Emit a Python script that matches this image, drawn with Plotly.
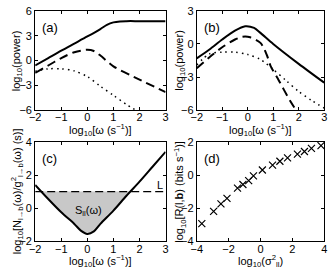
import numpy as np
import plotly.graph_objects as go

# ---------------- data ----------------
# panel (a)
a_x_solid = [-2, -1.5, -1, -0.5, 0, 0.5, 0.75, 1, 1.25, 1.5, 2, 3]
a_y_solid = [-0.6, 0.3, 1.2, 2.05, 2.9, 3.8, 4.3, 4.6, 4.72, 4.75, 4.75, 4.75]
a_x_dash = [-2, -1.5, -1, -0.5, 0, 0.25, 0.5, 1, 2, 3]
a_y_dash = [-1.5, -0.6, 0.3, 1.0, 1.3, 1.15, 0.6, -0.7, -2.3, -3.8]
a_x_dot = [-2, -1.5, -1, -0.5, 0, 0.5, 1, 1.5, 1.86]
a_y_dot = [-1.3, -1.0, -1.0, -1.25, -1.95, -3.1, -4.2, -5.3, -6.0]

# panel (b)
b_x_solid = [-2, -1.5, -1, -0.5, -0.1, 0.25, 0.5, 1, 2, 3]
b_y_solid = [-1.3, -0.5, 0.4, 1.2, 1.6, 1.45, 1.0, 0.0, -1.8, -3.5]
b_x_dash = [-2, -1.5, -1, -0.5, -0.2, 0.1, 0.5, 0.75, 0.9, 1.22, 1.65, 1.9]
b_y_dash = [-2.2, -1.2, -0.3, 0.4, 0.65, 0.6, 0.1, -1.0, -2.0, -3.3, -5.1, -6.0]
b_x_dot = [-2, -1.5, -1, -0.5, 0, 0.5, 1, 1.5, 2, 2.5, 3]
b_y_dot = [-1.9, -0.9, -0.75, -0.75, -0.95, -1.4, -2.3, -3.3, -4.3, -5.1, -5.8]

# panel (c)
c_x = [-2, -1.5, -1, -0.5, -0.25, 0, 0.25, 0.5, 1, 1.5, 2, 2.5, 3]
c_y = [1.4, 0.55, -0.25, -0.95, -1.35, -1.55, -1.4, -0.95, -0.15, 0.75, 1.6, 2.5, 3.4]
c_L = 1.0

# panel (d)
d_x = [-3.68, -2.94, -2.48, -2.1, -1.44, -1.1, -0.74, -0.44, 0.12, 0.76, 1.22, 1.7, 2.32, 2.76, 3.2, 3.8]
d_y = [-2.93, -2.19, -1.74, -1.41, -0.79, -0.57, -0.34, -0.05, 0.30, 0.60, 0.83, 1.03, 1.26, 1.42, 1.61, 1.77]

x_ticks_w = [-2, -1, 0, 1, 2, 3]
a_yticks = [-6, -3, 0, 3, 6]
b_yticks = [-6, -3, 0, 3]
c_yticks = [-2, 0, 2, 4]
d_xticks = [-4, -2, 0, 2, 4]
d_yticks = [-4, -2, 0, 2]

# ---------------- figure ----------------
W, H = 334, 277
FONT = "Liberation Sans"
fig = go.Figure()

def line(x, y, xa, ya, dash="solid", width=2):
    fig.add_trace(go.Scatter(x=x, y=y, mode="lines", xaxis=xa, yaxis=ya,
                             line=dict(color="black", width=width, dash=dash, shape="spline", smoothing=0.8),
                             showlegend=False, hoverinfo="skip"))

DASH = "9px,5px"
DOT = "1.5px,4px"

# (a)
line(a_x_solid, a_y_solid, "x", "y")
line(a_x_dash, a_y_dash, "x", "y", DASH)
line(a_x_dot, a_y_dot, "x", "y", DOT, 1.5)
# (b)
line(b_x_solid, b_y_solid, "x2", "y2")
line(b_x_dash, b_y_dash, "x2", "y2", DASH)
line(b_x_dot, b_y_dot, "x2", "y2", DOT, 1.5)

# (c) fill region where curve below L
cx = np.array(c_x, float); cy = np.array(c_y, float)
px, py = [], []
for i in range(len(cx) - 1):
    x0, x1, y0, y1 = cx[i], cx[i + 1], cy[i], cy[i + 1]
    if y0 < c_L:
        px.append(x0); py.append(y0)
    if (y0 - c_L) * (y1 - c_L) < 0:
        xc = x0 + (c_L - y0) * (x1 - x0) / (y1 - y0)
        px.append(xc); py.append(c_L)
fig.add_trace(go.Scatter(x=px, y=py, mode="lines", xaxis="x3", yaxis="y3", fill="toself",
                         fillcolor="#c8c8c8", line=dict(width=0, color="rgba(0,0,0,0)", shape="spline", smoothing=0.8),
                         showlegend=False, hoverinfo="skip"))
line(c_x, c_y, "x3", "y3")
fig.add_trace(go.Scatter(x=[-2, 3], y=[c_L, c_L], mode="lines", xaxis="x3", yaxis="y3",
                         line=dict(color="black", width=1.3, dash="8px,4px"),
                         showlegend=False, hoverinfo="skip"))

# (d)
fig.add_trace(go.Scatter(x=d_x, y=d_y, mode="markers", xaxis="x4", yaxis="y4",
                         marker=dict(symbol="x-thin", size=7, line=dict(color="black", width=1.2), color="black"),
                         showlegend=False, hoverinfo="skip"))

xl, xr = 30 / W, 164 / W
xl2, xr2 = 196 / W, 327 / W
yt, yb = 1 - 5 / H, 1 - 109 / H
yt2, yb2 = 1 - 142 / H, 1 - 246 / H

def ax(domain, rng, ticks, anchor, is_x):
    d = dict(domain=domain, range=rng, tickmode="array", tickvals=ticks,
             ticktext=[(("\u2212" + str(abs(t))) if t < 0 else str(t)) for t in ticks],
             ticks="inside", ticklen=3, tickwidth=1, tickcolor="black",
             showline=True, linecolor="black", linewidth=1, mirror="ticks",
             showgrid=False, zeroline=False, anchor=anchor,
             ticklabeloverflow="allow",
             tickfont=dict(size=11, color="black", family=FONT))
    if is_x:
        d["ticklabelstandoff"] = -3
    return d

fig.update_layout(
    width=W, height=H, autosize=False,
    margin=dict(l=0, r=0, t=0, b=0),
    paper_bgcolor="white", plot_bgcolor="white",
    font=dict(family=FONT, color="black", size=11),
    xaxis=ax([xl, xr], [-2, 3], x_ticks_w, "y", True),
    yaxis=ax([yb, yt], [-6, 6], a_yticks, "x", False),
    xaxis2=ax([xl2, xr2], [-2, 3], x_ticks_w, "y2", True),
    yaxis2=ax([yb, yt], [-6, 3], b_yticks, "x2", False),
    xaxis3=ax([xl, xr], [-2, 3], x_ticks_w, "y3", True),
    yaxis3=ax([yb2, yt2], [-2, 4], c_yticks, "x3", False),
    xaxis4=ax([xl2, xr2], [-4, 4], d_xticks, "y4", True),
    yaxis4=ax([yb2, yt2], [-4, 2], d_yticks, "x4", False),
)

TF = dict(size=11, color="black", family=FONT)
XT = "log<sub>10</sub>[ω (s<sup>−1</sup>)]"
YT = "log<sub>10</sub>(power)"
xtitles = [(XT, (xl + xr) / 2, 130), (XT, (xl2 + xr2) / 2, 130),
           (XT, (xl + xr) / 2, 267), ("log<sub>10</sub>(σ<sup>2</sup><sub>ll</sub>)", (xl2 + xr2) / 2, 267)]
for t, xp, ypix in xtitles:
    fig.add_annotation(text=t, xref="paper", yref="paper", x=xp, y=1 - ypix / H,
                       xanchor="center", yanchor="middle", showarrow=False, font=TF)
ytitles = [(YT, 11, (yt + yb) / 2), (YT, 178, (yt + yb) / 2),
           ("log<sub>10</sub>[N<sub>l→b</sub>(ω)/g<sup>2</sup><sub>l→b</sub>(ω) (s)]", 11, (yt2 + yb2) / 2),
           ("log<sub>10</sub>[R(l,<b>b</b>) (bits s<sup>−1</sup>)]", 178, (yt2 + yb2) / 2)]
for t, xpix, yp in ytitles:
    fig.add_annotation(text=t, xref="paper", yref="paper", x=xpix / W, y=yp, textangle=-90,
                       xanchor="center", yanchor="middle", showarrow=False, font=TF)

labels = [("(a)", "x", "y"), ("(b)", "x2", "y2"), ("(c)", "x3", "y3"), ("(d)", "x4", "y4")]
for t, xa, ya in labels:
    fig.add_annotation(text=t, xref=xa + " domain", yref=ya + " domain", x=0.04, y=0.83,
                       xanchor="left", yanchor="middle", showarrow=False,
                       font=dict(size=13, color="black", family=FONT))

fig.add_annotation(text="S<sub>ll</sub>(ω)", xref="x3", yref="y3", x=0.05, y=-0.2,
                   showarrow=False, font=TF)
fig.add_annotation(text="L", xref="x3", yref="y3", x=2.78, y=0.9,
                   xanchor="center", yanchor="bottom", showarrow=False, font=TF)

fig.write_html("out.html", config={"displayModeBar": False, "staticPlot": True},
               post_script="document.body.style.margin='0px';document.body.style.padding='0px';")
